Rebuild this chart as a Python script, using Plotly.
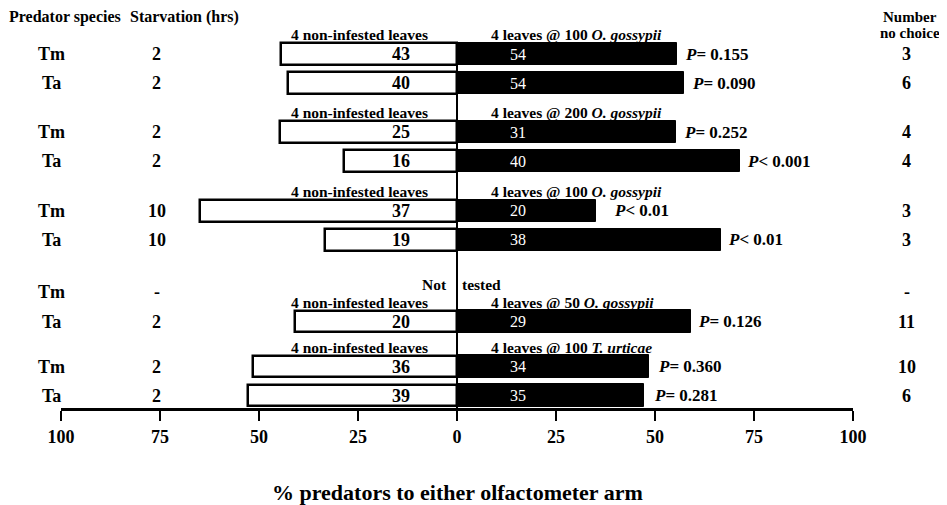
import plotly.graph_objects as go

# ---------------- data ----------------
species = ["Tm", "Ta", "Tm", "Ta", "Tm", "Ta", "Tm", "Ta", "Tm", "Ta"]
starvation = ["2", "2", "2", "2", "10", "10", "-", "2", "2", "2"]
n_control = [43, 40, 25, 16, 37, 19, None, 20, 36, 39]      # to 4 non-infested leaves
n_treatment = [54, 54, 31, 40, 20, 38, None, 29, 34, 35]    # to infested leaves
p_values = ["= 0.155", "= 0.090", "= 0.252", "&lt; 0.001", "&lt; 0.01", "&lt; 0.01",
            None, "= 0.126", "= 0.360", "= 0.281"]
no_choice = ["3", "6", "4", "4", "3", "3", "-", "11", "10", "6"]

group_rows = [[0, 1], [2, 3], [4, 5], [6], [7], [8, 9]]
group_left = ["4 non-infested leaves", "4 non-infested leaves", "4 non-infested leaves",
              None, "4 non-infested leaves", "4 non-infested leaves"]
group_right = ["4 leaves @ 100 <i>O. gossypii</i>", "4 leaves @ 200 <i>O. gossypii</i>",
               "4 leaves @ 100 <i>O. gossypii</i>", None,
               "4 leaves @ 50 <i>O. gossypii</i>", "4 leaves @ 100 <i>T. urticae</i>"]
tick_vals = [-100, -75, -50, -25, 0, 25, 50, 75, 100]
tick_text = ["100", "75", "50", "25", "0", "25", "50", "75", "100"]

# percentages of responding predators
pct_c = [None if c is None else 100 * c / (c + t) for c, t in zip(n_control, n_treatment)]
pct_t = [None if t is None else 100 * t / (c + t) for c, t in zip(n_control, n_treatment)]

# ---------------- layout helpers ----------------
GROUP_GAP = [0, 1.69, 1.72, 1.79, 1.03, 1.55]   # vertical spacing (row units) before each group
ypos = [0.0] * len(species)
cur = 0.0
for gi, rows in enumerate(group_rows):
    if gi > 0:
        cur += GROUP_GAP[gi]
    for k, r in enumerate(rows):
        if k > 0:
            cur += 1
        ypos[r] = cur

ROW_PX = 29.0
PLOT_H = 400
Y_TOP = -46 / ROW_PX
Y_BOT = Y_TOP + PLOT_H / ROW_PX
SERIF = "Liberation Serif"
P_SHIFT = [6, 6, 6, 5, 16, 5, 0, 5, 7, 8]

fig = go.Figure()
fig.add_trace(go.Bar(
    y=ypos, x=[None if p is None else -p for p in pct_c], orientation="h",
    marker=dict(color="white", line=dict(color="black", width=2.5)),
    width=0.74, showlegend=False, hoverinfo="skip"))
fig.add_trace(go.Bar(
    y=ypos, x=pct_t, orientation="h",
    marker=dict(color="black", line=dict(color="black", width=1)),
    width=0.78, showlegend=False, hoverinfo="skip"))

ann = []
def A(**kw):
    base = dict(showarrow=False, xanchor="center", yanchor="middle",
                font=dict(family=SERIF, size=15, color="black"))
    f = kw.pop("font", {})
    base["font"].update(f)
    base.update(kw)
    ann.append(base)

# headers
A(xref="paper", yref="y", x=-0.0682, y=-1.259, xanchor="left",
  text="<b>Predator species</b>", font=dict(size=16))
A(xref="paper", yref="y", x=0.0846, y=-1.259, xanchor="left",
  text="<b>Starvation (hrs)</b>", font=dict(size=16))
A(xref="paper", yref="y", x=1.072, y=-1.259, text="<b>Number</b>", font=dict(size=15))
A(xref="paper", yref="y", x=1.072, y=-0.724, text="<b>no choice</b>", font=dict(size=15))

for i in range(len(species)):
    y = ypos[i]
    A(xref="paper", yref="y", x=-0.012, y=y, text=f"<b>{species[i]}</b>", font=dict(size=18))
    A(xref="paper", yref="y", x=0.1212, y=y, text=f"<b>{starvation[i]}</b>", font=dict(size=18))
    A(xref="paper", yref="y", x=1.068, y=y, text=f"<b>{no_choice[i]}</b>", font=dict(size=18))
    if n_control[i] is not None:
        A(xref="x", yref="y", x=-14.1, y=y, text=f"<b>{n_control[i]}</b>", font=dict(size=18))
        A(xref="x", yref="y", x=15.4, y=y, text=f"{n_treatment[i]}", font=dict(size=16, color="white"))
        A(xref="x", yref="y", x=pct_t[i], y=y, xanchor="left", xshift=P_SHIFT[i],
          text=f"<b><i>P</i>{p_values[i]}</b>", font=dict(size=17))

for gi, rows in enumerate(group_rows):
    y = ypos[rows[0]] - 0.66
    if group_left[gi]:
        A(xref="x", yref="y", x=-6.9, y=y, xanchor="right",
          text=f"<b>{group_left[gi]}</b>", font=dict(size=15.5))
    if group_right[gi]:
        A(xref="x", yref="y", x=8.1, y=y, xanchor="left",
          text=f"<b>{group_right[gi]}</b>", font=dict(size=15.5))

# not tested row
A(xref="x", yref="y", x=-2.0, y=ypos[6] - 0.24, xanchor="right", text="<b>Not</b>", font=dict(size=15.5))
A(xref="x", yref="y", x=0.8, y=ypos[6] - 0.24, xanchor="left", text="<b>tested</b>", font=dict(size=15.5))

# axis title
A(xref="paper", yref="paper", x=0.5, y=-0.2125, text="<b>% predators to either olfactometer arm</b>",
  font=dict(size=22))

# page body adds an 8px offset, so the figure is 8px smaller than the window
fig.update_layout(
    width=939, height=497,
    margin=dict(l=53, r=94, t=0, b=497 - PLOT_H),
    paper_bgcolor="white", plot_bgcolor="white",
    barmode="overlay", bargap=0,
    annotations=ann,
    shapes=[dict(type="line", xref="x", yref="y", x0=0, x1=0, y0=-0.4, y1=Y_BOT,
                 line=dict(color="black", width=2))],
    xaxis=dict(range=[-100, 100], tickvals=tick_vals,
               ticktext=[f"<b>{t}</b>" for t in tick_text],
               showline=True, linecolor="black", linewidth=3,
               ticks="outside", ticklen=10, tickwidth=2, tickcolor="black",
               tickfont=dict(family=SERIF, size=18, color="black"),
               showgrid=False, zeroline=False, fixedrange=True),
    yaxis=dict(range=[Y_BOT, Y_TOP], visible=False, showgrid=False, zeroline=False),
)

fig.write_html("out.html")
